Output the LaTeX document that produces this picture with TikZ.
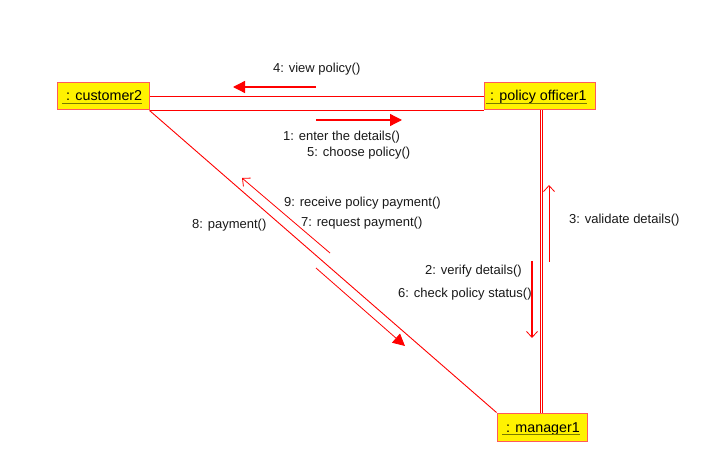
\documentclass[tikz,border=0pt]{standalone}
\usepackage{fontspec}
\setmainfont{Liberation Sans}
\usetikzlibrary{arrows.meta}
\definecolor{boxred}{HTML}{FF5A5A}
\definecolor{ulolive}{HTML}{7A7A00}
\begin{document}
\begin{tikzpicture}[x=1pt,y=-1pt,
  obj/.style={draw=boxred, fill=yellow, line width=1pt, inner sep=0pt},
  objtxt/.style={inner sep=0pt, font=\fontsize{14.3}{16}\selectfont, text=black},
  uline/.style={draw=ulolive, line width=1.4pt},
  link/.style={draw=red, line width=0.9pt},
  lbl/.style={font=\fontsize{13}{15}\selectfont, inner sep=0pt, anchor=base west, text=black!90},
  msgfill/.style={draw=red, line width=1.3pt, -{Triangle[length=12pt,width=12pt]}},
  msgopen/.style={draw=red, line width=0.8pt, -{Straight Barb[length=6pt,width=11pt,line width=0.8pt]}}]
\useasboundingbox (0,0) rectangle (707,473);
% objects
\node[obj, minimum width=92pt, minimum height=27pt] (cust) at (103,96.5) {};
\node[obj, minimum width=111pt, minimum height=27pt] (off) at (539.5,96.5) {};
\node[obj, minimum width=90pt, minimum height=28pt] (man) at (542,427) {};
\node[objtxt, anchor=base west] (ct) at (62,101) {\ : customer2};
\node[objtxt, anchor=base west] (ot) at (486,101) {\ : policy officer1};
\node[objtxt, anchor=base west] (mt) at (502,432) {\ : manager1};
\draw[uline] ([yshift=-2.5pt]ct.base west) -- ([yshift=-2.5pt]ct.base east);
\draw[uline] ([yshift=-2.5pt]ot.base west) -- ([yshift=-2.5pt]ot.base east);
\draw[uline] ([yshift=-2.5pt]mt.base west) -- ([yshift=-2.5pt]mt.base east);
% links
\draw[link] (cust.east) -- (off.west);
\draw[link, line width=1.8pt] (cust.south east) -- (off.south west);
\draw[link] (cust.south east) -- (man.north west);
\coordinate (v1) at ([xshift=0.5pt]off.south);
\coordinate (v2) at ([xshift=2.8pt]off.south);
\draw[link] (v1) -- (v1 |- man.north);
\draw[link] (v2) -- (v2 |- man.north);
% messages
\coordinate (m4s) at (316,87);  \coordinate (m4e) at (233,87);
\draw[msgfill] (m4s) -- (m4e);
\coordinate (m1s) at (316,120); \coordinate (m1e) at (402,120);
\draw[msgfill] (m1s) -- (m1e);
\coordinate (m8s) at (316,268); \coordinate (m8e) at (405,346);
\draw[msgfill, line width=0.8pt] (m8s) -- (m8e);
\coordinate (m9s) at (330,253); \coordinate (m9e) at (242,178);
\draw[msgopen] (m9s) -- (m9e);
\coordinate (m3s) at (549,262); \coordinate (m3e) at (549,185);
\draw[msgopen] (m3s) -- (m3e);
\coordinate (m2s) at (532,261); \coordinate (m2e) at (532,338);
\draw[msgopen, line width=1.6pt] (m2s) -- (m2e);
% labels
\node[lbl] (l4) at (273,73) {4: view policy()};
\node[lbl] (l1) at (283,140.5) {1: enter the details()};
\node[lbl] (l5) at (307,157) {5: choose policy()};
\node[lbl] (l9) at (284,207) {9: receive policy payment()};
\node[lbl] (l7) at (301,227) {7: request payment()};
\node[lbl] (l8) at (192,229) {8: payment()};
\node[lbl] (l3) at (569,224) {3: validate details()};
\node[lbl] (l2) at (425,274) {2: verify details()};
\node[lbl] (l6) at (398,297) {6: check policy status()};
\end{tikzpicture}
\end{document}
